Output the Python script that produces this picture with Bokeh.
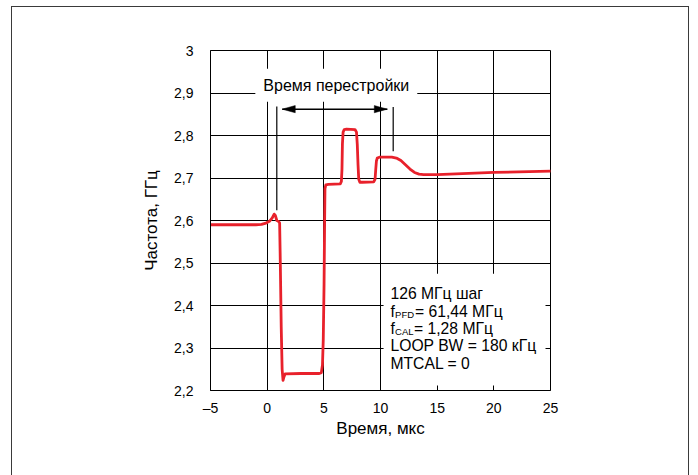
from bokeh.plotting import figure
from bokeh.models import FixedTicker, Label, BoxAnnotation
from bokeh.embed import file_html
from bokeh.resources import INLINE

# ---- data ----
time_us = [-5, -1.0, -0.5, -0.1, 0.2, 0.45, 0.62, 0.72, 0.85, 1.0, 1.1, 1.16, 1.24, 1.32, 1.40, 1.48, 1.58,
           3.0, 4.6, 4.78, 4.88, 4.95, 5.02, 5.07, 5.1, 5.18, 5.4, 6.45, 6.55, 6.6, 6.64, 6.7, 6.8, 7.0,
           7.75, 7.88, 7.95, 8.02, 8.08, 8.18, 8.4, 9.4, 9.52, 9.58, 9.64, 9.72, 9.9, 11.0, 11.4, 11.8,
           12.2, 12.6, 13.0, 13.4, 13.8, 15.0, 20.0, 25.0]
freq_ghz = [2.590, 2.590, 2.591, 2.594, 2.598, 2.606, 2.615, 2.612, 2.600, 2.598, 2.594, 2.50, 2.35, 2.25,
            2.224, 2.232, 2.239, 2.240, 2.240, 2.242, 2.26, 2.32, 2.45, 2.60, 2.675, 2.684, 2.685, 2.686,
            2.692, 2.72, 2.78, 2.808, 2.814, 2.815, 2.814, 2.808, 2.78, 2.73, 2.697, 2.690, 2.690, 2.691,
            2.697, 2.72, 2.74, 2.747, 2.749, 2.749, 2.747, 2.741, 2.731, 2.721, 2.713, 2.709, 2.708,
            2.708, 2.713, 2.716]

x_ticks = [-5, 0, 5, 10, 15, 20, 25]
x_tick_labels = ["–5", "0", "5", "10", "15", "20", "25"]
y_ticks = [2.2, 2.3, 2.4, 2.5, 2.6, 2.7, 2.8, 2.9, 3.0]
y_tick_labels = ["2,2", "2,3", "2,4", "2,5", "2,6", "2,7", "2,8", "2,9", "3"]

marker_x = [0.85, 11.12]
marker_bottom = [2.624, 2.763]
marker_top = [2.868, 2.867]
arrow_start = 1.33
arrow_end = 10.6
arrow_level = 2.862

info_lines = ["126 МГц шаг", "f", "f", "LOOP BW = 180 кГц", "MTCAL = 0"]
FONT = "Liberation Sans"

p = figure(width=678, height=475, x_range=(-5, 25), y_range=(2.2, 3.0),
           output_backend="svg", toolbar_location=None,
           min_border_left=198, min_border_right=140, min_border_top=43, min_border_bottom=92)
p.margin = (6, 0, 0, 11)
p.styles = {"border": "1px solid #3a3a3a"}
p.background_fill_color = "white"
p.border_fill_color = "white"
p.outline_line_color = "black"
p.outline_line_alpha = 1
p.outline_line_width = 1

p.xaxis.ticker = FixedTicker(ticks=x_ticks)
p.yaxis.ticker = FixedTicker(ticks=y_ticks)
p.xaxis.major_label_overrides = dict(zip(x_ticks, x_tick_labels))
p.yaxis.major_label_overrides = dict(zip(y_ticks, y_tick_labels))
for ax in (p.xaxis, p.yaxis):
    ax.major_tick_line_color = None
    ax.minor_tick_line_color = None
    ax.axis_line_color = "black"
    ax.major_label_text_font = FONT
    ax.major_label_text_font_size = "14px"
    ax.major_label_text_color = "black"
    ax.axis_label_text_font = FONT
    ax.axis_label_text_font_size = "17px"
    ax.axis_label_text_font_style = "normal"
    ax.axis_label_text_color = "black"
p.xaxis.major_label_standoff = 3
p.yaxis.major_label_standoff = 11
p.xaxis.axis_label = "Время, мкс"
p.yaxis.axis_label = "Частота, ГГц"
p.xaxis.axis_label_standoff = 0
p.yaxis.axis_label_standoff = 10

p.xgrid.ticker = FixedTicker(ticks=x_ticks)
p.ygrid.ticker = FixedTicker(ticks=y_ticks)
for g in (p.xgrid, p.ygrid):
    g.grid_line_color = "black"
    g.grid_line_alpha = 1
    g.grid_line_width = 1

# main curve
p.line(time_us, freq_ghz, line_color="#e8212b", line_width=2.8, line_join="round", line_cap="round")

# marker lines
p.segment(x0=marker_x, y0=marker_bottom, x1=marker_x, y1=marker_top, line_color="black", line_width=1.2)

# double arrow
p.segment(x0=[arrow_start], y0=[arrow_level], x1=[arrow_end], y1=[arrow_level], line_color="black", line_width=1.5)
px_x = 340 / 30.0
px_y = 340 / 0.8
hl = 13 / px_x
hw = 3.6 / px_y
p.patches(xs=[[arrow_start, arrow_start + hl, arrow_start + hl], [arrow_end, arrow_end - hl, arrow_end - hl]],
          ys=[[arrow_level, arrow_level + hw, arrow_level - hw], [arrow_level, arrow_level + hw, arrow_level - hw]],
          fill_color="black", line_color="black", line_width=0.5)

# title label with white background
p.add_layout(Label(x=6.1, y=2.918, text="Время перестройки", text_align="center", text_baseline="middle",
                   text_font=FONT, text_font_size="16px", text_color="black",
                   background_fill_color="white", background_fill_alpha=1, padding=8))

# info box
p.add_layout(BoxAnnotation(left=10.27, right=24.56, bottom=2.212, top=2.475,
                           fill_color="white", fill_alpha=1, line_alpha=0))
x_txt = 10.88
ys = [2.428, 2.387, 2.346, 2.305, 2.264]
def lab(text, y, xoff=0, yoff=0, size="15.7px"):
    p.add_layout(Label(x=x_txt, y=y, x_offset=xoff, y_offset=yoff, text=text, text_align="left",
                       text_baseline="middle", text_font=FONT, text_font_size=size, text_color="black"))
lab(info_lines[0], ys[0])
lab("f", ys[1])
lab("PFD", ys[1], xoff=4.6, yoff=-3.5, size="9.5px")
lab("= 61,44 МГц", ys[1], xoff=24.5)
lab("f", ys[2])
lab("CAL", ys[2], xoff=4.6, yoff=-3.5, size="9.5px")
lab("= 1,28 МГц", ys[2], xoff=23.5)
lab(info_lines[3], ys[3])
lab(info_lines[4], ys[4])

open("out.html", "w").write(file_html(p, INLINE))
